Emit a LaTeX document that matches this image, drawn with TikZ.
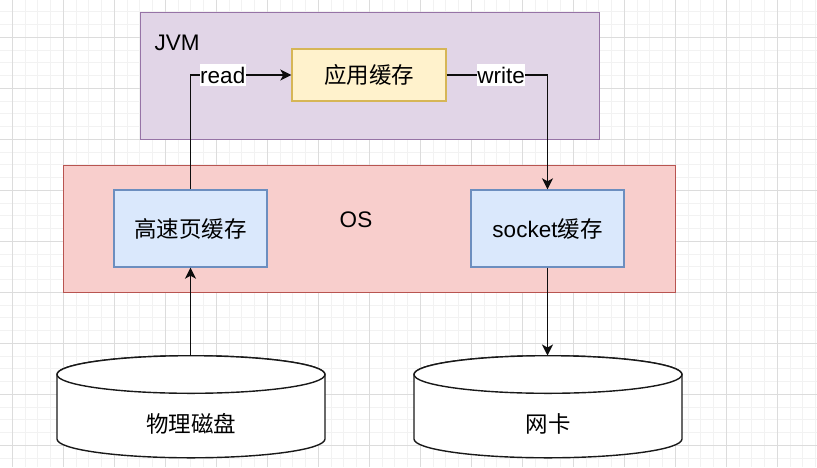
\documentclass[tikz,border=0pt]{standalone}
\usepackage{fontspec}
\setmainfont{Liberation Sans}
\newfontfamily\cjk{Noto Sans CJK SC}
\usetikzlibrary{arrows.meta}
\definecolor{jvmfill}{HTML}{E1D5E7}
\definecolor{jvmline}{HTML}{9673A6}
\definecolor{osfill}{HTML}{F8CECC}
\definecolor{osline}{HTML}{B85450}
\definecolor{appfill}{HTML}{FFF2CC}
\definecolor{appline}{HTML}{D6B656}
\definecolor{bluefill}{HTML}{DAE8FC}
\definecolor{blueline}{HTML}{6C8EBF}
\definecolor{minorg}{HTML}{F2F2F2}
\definecolor{majorg}{HTML}{DCDCDC}
\tikzset{
  minorgrid/.style={draw=minorg, line width=1pt},
  majorgrid/.style={draw=majorg, line width=1pt},
  txt/.style={font=\fontsize{22.5}{27}\selectfont, inner sep=0pt},
  container/.style={line width=1.4pt, inner sep=0pt, anchor=north west},
  cachebox/.style={draw=blueline, fill=bluefill, line width=1.4pt, minimum width=153pt, minimum height=77pt, inner sep=0pt, font=\fontsize{22.5}{27}\selectfont},
  appbox/.style={draw=appline, fill=appfill, line width=1.4pt, minimum width=154pt, minimum height=52pt, inner sep=0pt, font=\fontsize{22.5}{27}\selectfont},
  cylarea/.style={minimum width=268pt, minimum height=102pt, inner sep=0pt},
  cyl/.style={draw=black!90, fill=white, line width=1.4pt},
  arr/.style={draw=black!95, line width=1.4pt, -{Stealth[length=11pt,width=11pt,inset=3pt]}},
  lbl/.style={fill=white, text=black, font=\fontsize{22.5}{27}\selectfont, inner xsep=0.5pt, inner ysep=3pt}
}
\begin{document}
\begin{tikzpicture}[x=1pt,y=-1pt]
\useasboundingbox (0,0) rectangle (817,467);
\fill[white] (0,0) rectangle (817,467);
% grid
\foreach \i in {0,...,64} {\draw[minorgrid] ({-0.45+12.75*\i},0) -- ({-0.45+12.75*\i},467);}
\foreach \i in {0,...,37} {\draw[minorgrid] (0,{-0.95+12.75*\i}) -- (817,{-0.95+12.75*\i});}
\foreach \i in {0,...,15} {\draw[majorgrid] ({12.3+51*\i},0) -- ({12.3+51*\i},467);}
\foreach \i in {0,...,8} {\draw[majorgrid] (0,{37.3+51*\i}) -- (817,{37.3+51*\i});}

% containers
\node[container, draw=jvmline, fill=jvmfill, minimum width=459pt, minimum height=127pt] (jvm) at (139.5,11.7) {};
\node[txt, anchor=west] (jvmlabel) at (154.5,43) {JVM};
\node[container, draw=osline, fill=osfill, minimum width=612pt, minimum height=127pt] (os) at (63,165) {};
\node[txt] (oslabel) at (356,220) {OS};

% boxes
\node[appbox] (app) at (369,75) {\cjk 应用缓存};
\node[cachebox] (hs) at (190.5,228.5) {\cjk 高速页缓存};
\node[cachebox] (sock) at (547.5,228.5) {socket{\cjk 缓存}};

% cylinders
\node[cylarea] (disk) at (191,406.7) {};
\draw[cyl] (57,374.5) -- (57,439) arc[start angle=180, end angle=360, x radius=134pt, y radius=18.8pt] -- (325,374.5) arc[start angle=0, end angle=180, x radius=134pt, y radius=18.8pt] -- cycle;
\draw[cyl] (191,374.5) ellipse[x radius=134pt, y radius=18.8pt];
\node[txt] (disklabel) at (191,424) {\cjk 物理磁盘};

\node[cylarea] (nic) at (548,406.7) {};
\draw[cyl] (414,374.5) -- (414,439) arc[start angle=180, end angle=360, x radius=134pt, y radius=18.8pt] -- (682,374.5) arc[start angle=0, end angle=180, x radius=134pt, y radius=18.8pt] -- cycle;
\draw[cyl] (548,374.5) ellipse[x radius=134pt, y radius=18.8pt];
\node[txt] (niclabel) at (548,424) {\cjk 网卡};

% connectors
\draw[arr] (disk.north -| hs.south) -- (hs.south);
\draw[arr] (hs.north) |- (app.west) node[lbl, pos=0.66] (readlbl) {read};
\draw[arr] (app.east) -| (sock.north) node[lbl, pos=0.27] (writelbl) {write};
\draw[arr] (sock.south) -- (sock.south |- nic.north);
\end{tikzpicture}
\end{document}
